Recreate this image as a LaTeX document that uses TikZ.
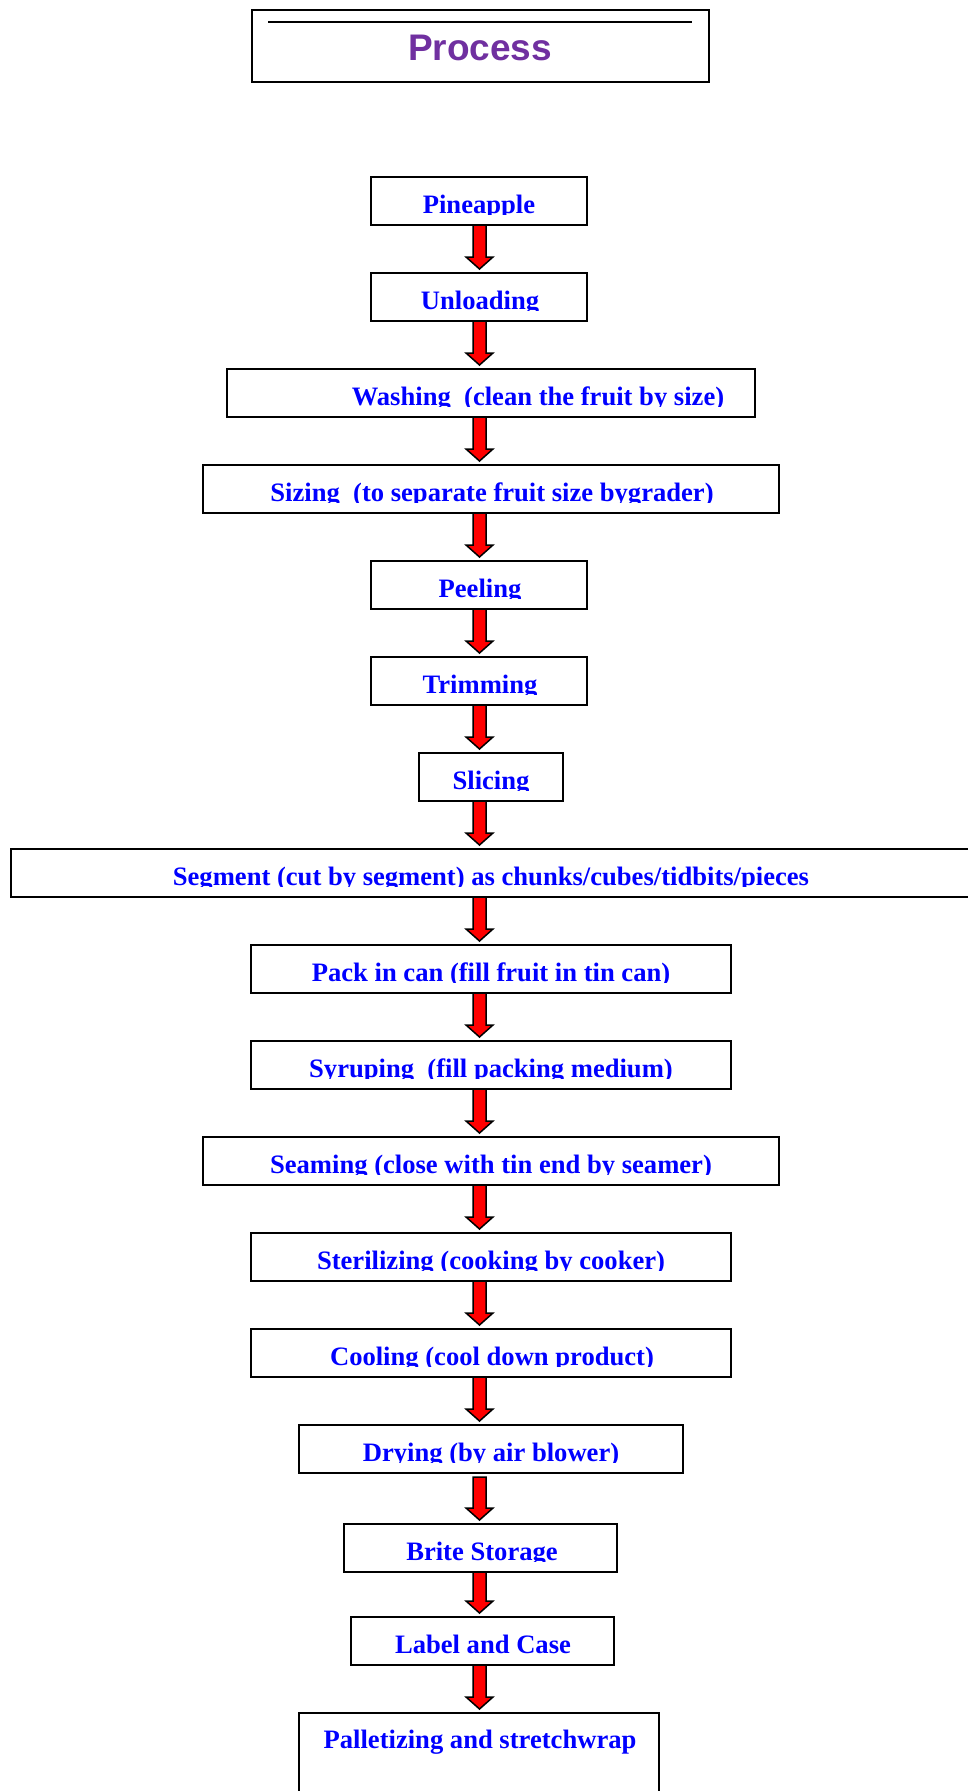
\documentclass[tikz,border=0pt]{standalone}
\usepackage{fontspec}
\setmainfont{Liberation Serif}
\newfontfamily\titlefont{Liberation Sans}
\usetikzlibrary{calc}
\definecolor{titlepurple}{RGB}{112,48,160}
\definecolor{stepblue}{RGB}{0,0,255}
\definecolor{arrred}{RGB}{255,0,0}
\tikzset{
  boxsty/.style={draw=black, line width=2pt, fill=white, inner sep=0pt, outer sep=0pt, rectangle},
  txt/.style={inner sep=0pt, outer sep=0pt, text=stepblue, font=\fontsize{26.6}{30}\selectfont\bfseries},
  blockarr/.style={draw=black, line width=1.5pt, fill=arrred, line join=miter},
}
\newcommand\stepnode[6]{%
  \node[boxsty, minimum width=#3-#2, minimum height=48, anchor=north west] (#1) at (#2,#4) {};
  \begin{scope}
    \clip (#2,#4) rectangle (#3,#4+37.5);
    \node[txt, anchor=base] (#1t) at (#5,#4+36) {#6};
  \end{scope}}
\newcommand\flowarrow[3][0]{%
  \draw[blockarr] let \p1=(ax |- #2.south), \p2=(ax |- #3.north) in
    (\x1-6.5pt,\y1-#1pt) -- (\x1+6.5pt,\y1-#1pt) -- (\x1+6.5pt,\y2+16pt)
    -- (\x1+13.5pt,\y2+16pt) -- (\x1,\y2+4pt) -- (\x1-13.5pt,\y2+16pt)
    -- (\x1-6.5pt,\y2+16pt) -- cycle;}
\begin{document}
\begin{tikzpicture}[x=1pt,y=-1pt]
\useasboundingbox (0,0) rectangle (968,1791);
\coordinate (ax) at (479.5,0);
% title
\node[draw=black, line width=2pt, inner sep=0pt, minimum width=457, minimum height=72, anchor=north west] (title) at (251,9) {};
\draw[line width=2pt] (268,22) coordinate (tl) -- (692,22) coordinate (tr);
\node[inner sep=0pt, anchor=base, text=titlepurple, font=\titlefont\fontsize{37}{40}\selectfont\bfseries] (titlet) at (480,60) {Process};
% steps
\stepnode{pine}{371}{587}{177}{479}{Pineapple}
\stepnode{unl}{371}{587}{273}{480}{Unloading}
\stepnode{wash}{227}{755}{369}{538}{Washing\ \ (clean the fruit by size)}
\stepnode{siz}{203}{779}{465}{492}{Sizing\ \ (to separate fruit size bygrader)}
\stepnode{peel}{371}{587}{561}{480}{Peeling}
\stepnode{trim}{371}{587}{657}{480}{Trimming}
\stepnode{slic}{419}{563}{753}{491}{Slicing}
\stepnode{seg}{11}{975}{849}{491}{Segment (cut by segment) as chunks/cubes/tidbits/pieces}
\stepnode{pack}{251}{731}{945}{491}{Pack in can (fill fruit in tin can)}
\stepnode{syr}{251}{731}{1041}{491}{Syruping\ \ (fill packing medium)}
\stepnode{seam}{203}{779}{1137}{491}{Seaming (close with tin end by seamer)}
\stepnode{ster}{251}{731}{1233}{491}{Sterilizing (cooking by cooker)}
\stepnode{cool}{251}{731}{1329}{492}{Cooling (cool down product)}
\stepnode{dry}{299}{683}{1425}{491}{Drying (by air blower)}
\stepnode{brite}{344}{617}{1524}{482}{Brite Storage}
\stepnode{lab}{351}{614}{1617}{483}{Label and Case}
\node[boxsty, minimum width=360, minimum height=90, anchor=north west] (pal) at (299,1713) {};
\node[txt, anchor=base] (palt) at (480,1748) {Palletizing and stretchwrap};
% arrows
\flowarrow{pine}{unl}
\flowarrow{unl}{wash}
\flowarrow{wash}{siz}
\flowarrow{siz}{peel}
\flowarrow{peel}{trim}
\flowarrow{trim}{slic}
\flowarrow{slic}{seg}
\flowarrow{seg}{pack}
\flowarrow{pack}{syr}
\flowarrow{syr}{seam}
\flowarrow{seam}{ster}
\flowarrow{ster}{cool}
\flowarrow{cool}{dry}
\flowarrow[4]{dry}{brite}
\flowarrow{brite}{lab}
\flowarrow{lab}{pal}
\end{tikzpicture}
\end{document}
